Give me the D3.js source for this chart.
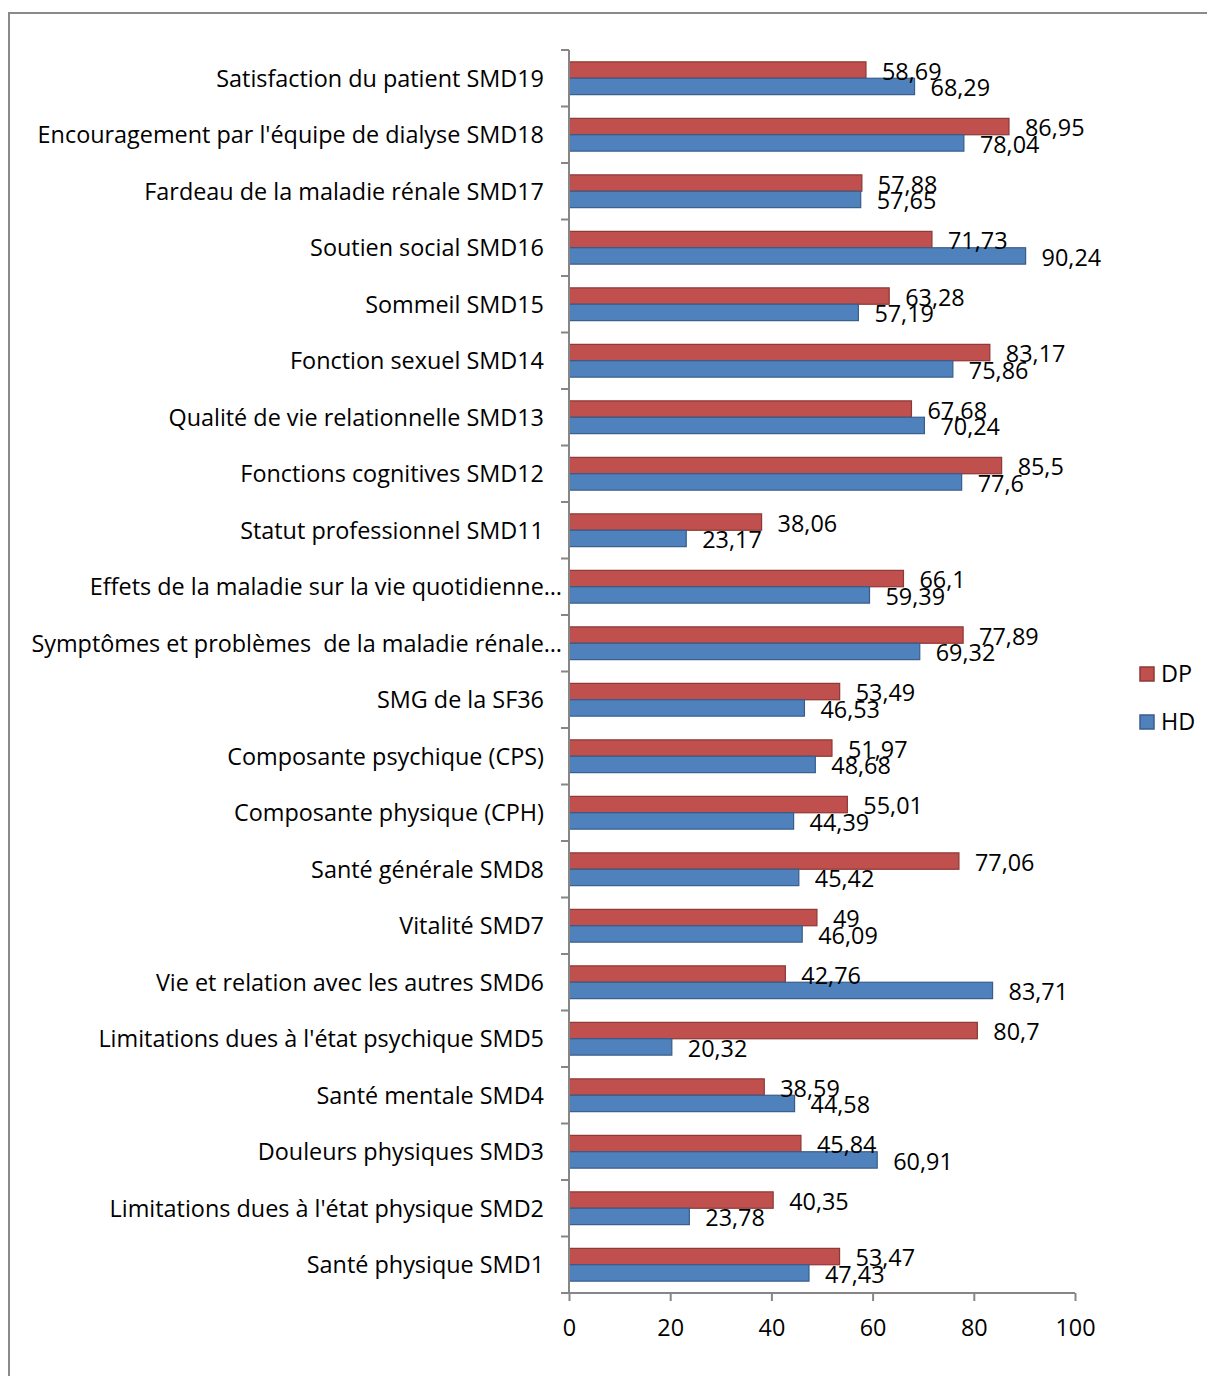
<!DOCTYPE html>
<html>
<head>
<meta charset="utf-8">
<script src="https://cdn.jsdelivr.net/npm/d3@7"></script>
<style>
  html, body { margin: 0; padding: 0; background: #fff; }
  svg { display: block; }
  text { font-family: "Open Sans", Lato, sans-serif; fill: #000; white-space: pre; }
</style>
</head>
<body>
<svg id="chart" width="1207" height="1376"></svg>
<script>
// Categories, listed from top to bottom
const categories = [
  "Satisfaction du patient SMD19",
  "Encouragement par l'équipe de dialyse SMD18",
  "Fardeau de la maladie rénale SMD17",
  "Soutien social SMD16",
  "Sommeil SMD15",
  "Fonction sexuel SMD14",
  "Qualité de vie relationnelle SMD13",
  "Fonctions cognitives SMD12",
  "Statut professionnel SMD11",
  "Effets de la maladie sur la vie quotidienne…",
  "Symptômes et problèmes  de la maladie rénale…",
  "SMG de la SF36",
  "Composante psychique (CPS)",
  "Composante physique (CPH)",
  "Santé générale SMD8",
  "Vitalité SMD7",
  "Vie et relation avec les autres SMD6",
  "Limitations dues à l'état psychique SMD5",
  "Santé mentale SMD4",
  "Douleurs physiques SMD3",
  "Limitations dues à l'état physique SMD2",
  "Santé physique SMD1"
];

const dpValues = [58.69, 86.95, 57.88, 71.73, 63.28, 83.17, 67.68, 85.5, 38.06, 66.1, 77.89,
                  53.49, 51.97, 55.01, 77.06, 49, 42.76, 80.7, 38.59, 45.84, 40.35, 53.47];
const hdValues = [68.29, 78.04, 57.65, 90.24, 57.19, 75.86, 70.24, 77.6, 23.17, 59.39, 69.32,
                  46.53, 48.68, 44.39, 45.42, 46.09, 83.71, 20.32, 44.58, 60.91, 23.78, 47.43];

const seriesNames = ["DP", "HD"];
const xTicks = [0, 20, 40, 60, 80, 100];

const fills   = { DP: "#C0504D", HD: "#4F81BD" };
const strokes = { DP: "#8C3836", HD: "#385D8A" };

const FONT = 23.4;

const svg = d3.select("#chart");

// outer chart frame
svg.append("rect")
  .attr("x", 9).attr("y", 13)
  .attr("width", 1230).attr("height", 1400)
  .attr("fill", "none").attr("stroke", "#8a8a8a").attr("stroke-width", 2);

const plot = { left: 569, right: 1075, top: 50, bottom: 1293 };

const x = d3.scaleLinear().domain([0, 100]).range([plot.left, plot.right]);
const y = d3.scaleBand().domain(categories).range([plot.top, plot.bottom])
  .paddingInner(0.42).paddingOuter(0.21);
const ySub = d3.scaleBand().domain(seriesNames).range([0, y.bandwidth()]);

const rows = categories.map((c, i) => ({ cat: c, DP: dpValues[i], HD: hdValues[i] }));

const fmt = v => String(v).replace(".", ",");

// bars
const groups = svg.append("g").selectAll("g")
  .data(rows).join("g")
  .attr("transform", d => `translate(0,${y(d.cat)})`);

groups.selectAll("rect")
  .data(d => seriesNames.map(s => ({ s, v: d[s] })))
  .join("rect")
  .attr("x", x(0))
  .attr("y", d => ySub(d.s))
  .attr("width", d => x(d.v) - x(0))
  .attr("height", ySub.bandwidth())
  .attr("fill", d => fills[d.s])
  .attr("stroke", d => strokes[d.s])
  .attr("stroke-width", 1.2);

// value labels, placed just past the end of each bar
groups.selectAll("text.val")
  .data(d => seriesNames.map(s => ({ s, v: d[s] })))
  .join("text")
  .attr("class", "val")
  .attr("x", d => x(d.v) + 16)
  .attr("y", d => ySub(d.s) + ySub.bandwidth() / 2 + 1.5)
  .attr("dy", "0.36em")
  .attr("font-size", FONT)
  .text(d => fmt(d.v));

// category axis
const yAxisG = svg.append("g")
  .attr("transform", `translate(${plot.left},0)`);
yAxisG.append("line")
  .attr("x1", 0).attr("x2", 0)
  .attr("y1", plot.top).attr("y2", plot.bottom)
  .attr("stroke", "#868686").attr("stroke-width", 2);
const bounds = d3.range(categories.length + 1).map(i => plot.top + i * (plot.bottom - plot.top) / categories.length);
yAxisG.selectAll("line.tk").data(bounds).join("line")
  .attr("class", "tk")
  .attr("x1", -8).attr("x2", 0)
  .attr("y1", d => d).attr("y2", d => d)
  .attr("stroke", "#868686").attr("stroke-width", 2);

svg.append("g").selectAll("text")
  .data(categories).join("text")
  .attr("x", d => d.endsWith("…") ? 562 : 544)
  .attr("y", d => y(d) + y.bandwidth() / 2)
  .attr("dy", "0.36em")
  .attr("text-anchor", "end")
  .attr("font-size", FONT)
  .text(d => d);

// value axis
const xAxis = d3.axisBottom(x).tickValues(xTicks).tickSize(8).tickPadding(18).tickFormat(d3.format("d"));
const xAxisG = svg.append("g")
  .attr("transform", `translate(0,${plot.bottom})`)
  .call(xAxis);
xAxisG.select(".domain").attr("stroke", "#868686").attr("stroke-width", 2)
  .attr("d", `M${plot.left},0H${plot.right}`);
xAxisG.selectAll(".tick line").attr("stroke", "#868686").attr("stroke-width", 2);
xAxisG.selectAll(".tick text").attr("font-size", FONT).attr("font-family", "'Open Sans', Lato, sans-serif").attr("fill", "#000");

// legend
const legend = svg.append("g").selectAll("g")
  .data(seriesNames).join("g")
  .attr("transform", (d, i) => `translate(1140,${667 + i * 48})`);
legend.append("rect")
  .attr("width", 14).attr("height", 14)
  .attr("fill", d => fills[d]).attr("stroke", d => strokes[d]).attr("stroke-width", 1.5);
legend.append("text")
  .attr("x", 21).attr("y", 7).attr("dy", "0.36em")
  .attr("font-size", FONT)
  .text(d => d);
</script>
</body>
</html>
